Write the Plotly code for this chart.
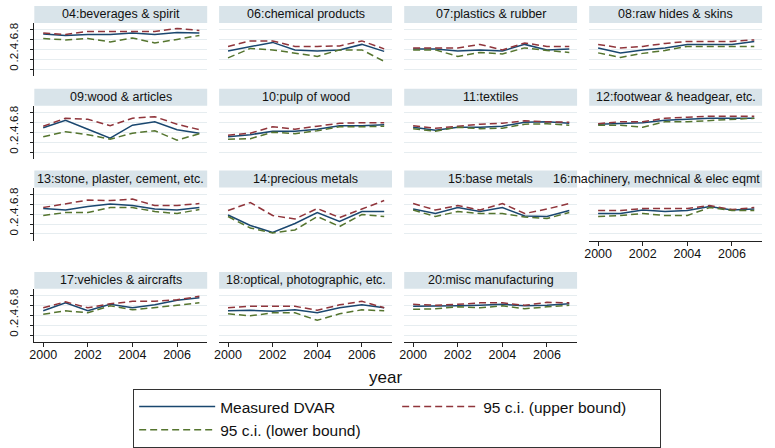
import plotly.graph_objects as go

years = [2000, 2001, 2002, 2003, 2004, 2005, 2006, 2007]

titles = [
    "04:beverages & spirit", "06:chemical products", "07:plastics & rubber", "08:raw hides & skins",
    "09:wood & articles", "10:pulp of wood", "11:textiles", "12:footwear & headgear, etc.",
    "13:stone, plaster, cement, etc.", "14:precious metals", "15:base metals",
    "16:machinery, mechnical & elec eqmt",
    "17:vehicles & aircrafts", "18:optical, photographic, etc.", "20:misc manufacturing",
]

measured = [
    [0.71, 0.68, 0.70, 0.70, 0.73, 0.70, 0.74, 0.73],
    [0.37, 0.45, 0.54, 0.39, 0.37, 0.39, 0.50, 0.36],
    [0.41, 0.41, 0.37, 0.39, 0.37, 0.50, 0.39, 0.41],
    [0.43, 0.33, 0.39, 0.43, 0.50, 0.50, 0.50, 0.56],
    [0.49, 0.64, 0.46, 0.28, 0.54, 0.61, 0.45, 0.38],
    [0.31, 0.35, 0.42, 0.42, 0.46, 0.53, 0.53, 0.55],
    [0.50, 0.44, 0.50, 0.50, 0.52, 0.60, 0.61, 0.58],
    [0.56, 0.57, 0.59, 0.64, 0.66, 0.68, 0.68, 0.68],
    [0.51, 0.48, 0.55, 0.60, 0.57, 0.50, 0.48, 0.53],
    [0.38, 0.17, 0.03, 0.21, 0.43, 0.25, 0.45, 0.45],
    [0.50, 0.41, 0.53, 0.45, 0.53, 0.36, 0.35, 0.47],
    [0.41, 0.41, 0.48, 0.45, 0.47, 0.55, 0.48, 0.50],
    [0.49, 0.65, 0.49, 0.62, 0.55, 0.61, 0.70, 0.75],
    [0.49, 0.50, 0.48, 0.51, 0.45, 0.55, 0.61, 0.55],
    [0.58, 0.58, 0.59, 0.60, 0.62, 0.59, 0.60, 0.63],
]

upper = [
    [0.73, 0.70, 0.76, 0.76, 0.76, 0.76, 0.82, 0.78],
    [0.46, 0.57, 0.57, 0.46, 0.46, 0.47, 0.57, 0.41],
    [0.43, 0.43, 0.43, 0.50, 0.39, 0.53, 0.46, 0.46],
    [0.50, 0.43, 0.46, 0.52, 0.56, 0.56, 0.56, 0.59],
    [0.52, 0.68, 0.66, 0.53, 0.68, 0.71, 0.56, 0.45],
    [0.34, 0.38, 0.51, 0.46, 0.52, 0.58, 0.59, 0.59],
    [0.53, 0.48, 0.52, 0.56, 0.58, 0.63, 0.61, 0.60],
    [0.57, 0.61, 0.61, 0.68, 0.70, 0.72, 0.72, 0.72],
    [0.53, 0.60, 0.68, 0.67, 0.70, 0.57, 0.57, 0.61],
    [0.47, 0.63, 0.37, 0.30, 0.51, 0.33, 0.50, 0.67],
    [0.61, 0.48, 0.57, 0.48, 0.61, 0.41, 0.50, 0.61],
    [0.47, 0.47, 0.51, 0.51, 0.51, 0.57, 0.49, 0.53],
    [0.55, 0.67, 0.55, 0.63, 0.68, 0.68, 0.71, 0.78],
    [0.55, 0.58, 0.58, 0.58, 0.50, 0.61, 0.68, 0.55],
    [0.62, 0.60, 0.62, 0.65, 0.65, 0.60, 0.66, 0.65],
]

lower = [
    [0.62, 0.59, 0.62, 0.55, 0.63, 0.53, 0.60, 0.68],
    [0.23, 0.42, 0.39, 0.32, 0.26, 0.39, 0.39, 0.16],
    [0.39, 0.39, 0.26, 0.34, 0.31, 0.43, 0.38, 0.34],
    [0.33, 0.24, 0.32, 0.38, 0.46, 0.46, 0.46, 0.46],
    [0.31, 0.41, 0.35, 0.26, 0.38, 0.43, 0.24, 0.37],
    [0.26, 0.27, 0.40, 0.37, 0.43, 0.51, 0.51, 0.52],
    [0.47, 0.42, 0.50, 0.47, 0.48, 0.56, 0.57, 0.54],
    [0.54, 0.54, 0.50, 0.61, 0.61, 0.63, 0.66, 0.68],
    [0.37, 0.43, 0.43, 0.53, 0.53, 0.45, 0.41, 0.49],
    [0.35, 0.12, 0.02, 0.08, 0.35, 0.15, 0.39, 0.35],
    [0.48, 0.35, 0.45, 0.41, 0.41, 0.34, 0.31, 0.43],
    [0.35, 0.37, 0.41, 0.37, 0.37, 0.53, 0.47, 0.47],
    [0.42, 0.49, 0.45, 0.59, 0.51, 0.55, 0.60, 0.65],
    [0.43, 0.39, 0.45, 0.45, 0.30, 0.43, 0.51, 0.49],
    [0.52, 0.53, 0.57, 0.55, 0.59, 0.53, 0.57, 0.60],
]

y_tickvals = [0, 0.2, 0.4, 0.6, 0.8]
y_ticktext = ["0", ".2", ".4", ".6", ".8"]
x_tickvals = [2000, 2002, 2004, 2006]
series_names = ["Measured DVAR", "95 c.i. (upper bound)", "95 c.i. (lower bound)"]

# ---- styling / geometry ----
W, H = 775, 448
FONT = "Liberation Sans, Arial, Helvetica, sans-serif"
NAVY, MAROON, GREEN = "#1a476f", "#90353b", "#55752f"
GRID = "#e6edf0"
STRIP = "#d9e4ea"
AXIS = "#222222"
col_left = [29.5, 215.5, 401.8, 588.0]
col_w = 174.0
row_zero = [68.5, 151.5, 233.5, 335.0]
px_per_unit = 50.0
y_range = [-0.14, 0.92]
x_range = [1999.6, 2007.35]
ncols = 4
n = len(titles)

fig = go.Figure()
layout = dict(
    width=W, height=H, autosize=False,
    margin=dict(l=0, r=0, t=0, b=0),
    paper_bgcolor="white", plot_bgcolor="white",
    font=dict(family=FONT, color="#111111"),
    shapes=[], annotations=[],
    showlegend=True,
)

bottom_row = {}
for i in range(n):
    r, c = divmod(i, ncols)
    bottom_row[c] = max(bottom_row.get(c, -1), r)

for i in range(n):
    r, c = divmod(i, ncols)
    k = "" if i == 0 else str(i + 1)
    left = col_left[c]
    right = left + col_w
    top = row_zero[r] - y_range[1] * px_per_unit
    bot = row_zero[r] - y_range[0] * px_per_unit
    is_bottom = (r == bottom_row[c])
    is_left = (c == 0)

    styles = [
        dict(color=NAVY, width=1.5, dash="solid"),
        dict(color=MAROON, width=1.5, dash="7px,4px"),
        dict(color=GREEN, width=1.5, dash="7px,4px"),
    ]
    for name, vals, st in zip(series_names, [measured[i], upper[i], lower[i]], styles):
        fig.add_trace(go.Scatter(
            x=years, y=vals, mode="lines", name=name, line=st,
            xaxis="x" + k, yaxis="y" + k, showlegend=(i == 0),
            hoverinfo="skip",
        ))

    layout["xaxis" + k] = dict(
        domain=[left / W, right / W], anchor="y" + k, range=x_range,
        showgrid=False, zeroline=False,
        showline=is_bottom, linecolor=AXIS, linewidth=1.2,
        ticks="outside" if is_bottom else "", ticklen=4, tickcolor=AXIS, tickwidth=1.2,
        tickvals=x_tickvals, showticklabels=is_bottom,
        tickfont=dict(size=12.5, color="#111111"), ticklabelstandoff=-3,
    )
    layout["yaxis" + k] = dict(
        domain=[1 - bot / H, 1 - top / H], anchor="x" + k, range=y_range,
        showgrid=True, gridcolor=GRID, gridwidth=1, zeroline=False,
        showline=is_left, linecolor=AXIS, linewidth=1.2,
        ticks="outside" if is_left else "", ticklen=3, tickcolor=AXIS, tickwidth=1.2,
        tickvals=y_tickvals, ticktext=y_ticktext, showticklabels=is_left,
        tickangle=-90, tickfont=dict(size=11.5, color="#111111"), ticklabelstandoff=8,
    )
    # header strip
    layout["shapes"].append(dict(
        type="rect", xref="paper", yref="paper",
        x0=left / W, x1=right / W, y0=1 - (top - 0.5) / H, y1=1 - (top - 17.5) / H,
        fillcolor=STRIP, line=dict(width=0), layer="below",
    ))
    too_long = len(titles[i]) > 32
    layout["annotations"].append(dict(
        text=titles[i], xref="paper", yref="paper",
        x=(right / W) if too_long else ((left + right) / 2 / W), y=1 - (top - 9) / H,
        xanchor="right" if too_long else "center", yanchor="middle", showarrow=False,
        font=dict(size=12.5, color="#111111", family=FONT),
    ))

layout["annotations"].append(dict(
    text="year", xref="paper", yref="paper", x=383 / W, y=1 - 377 / H,
    xanchor="center", yanchor="middle", showarrow=False,
    font=dict(size=17, color="#111111", family=FONT),
))

layout["legend"] = dict(
    orientation="h", x=129 / W, xanchor="left", y=1 - 389 / H, yanchor="top",
    bgcolor="white", bordercolor="#333333", borderwidth=1,
    font=dict(size=15.5, color="#111111", family=FONT),
    entrywidth=172, entrywidthmode="pixels", itemwidth=76,
    traceorder="normal", tracegroupgap=0,
)

fig.update_layout(**layout)
fig.write_html("out.html")
